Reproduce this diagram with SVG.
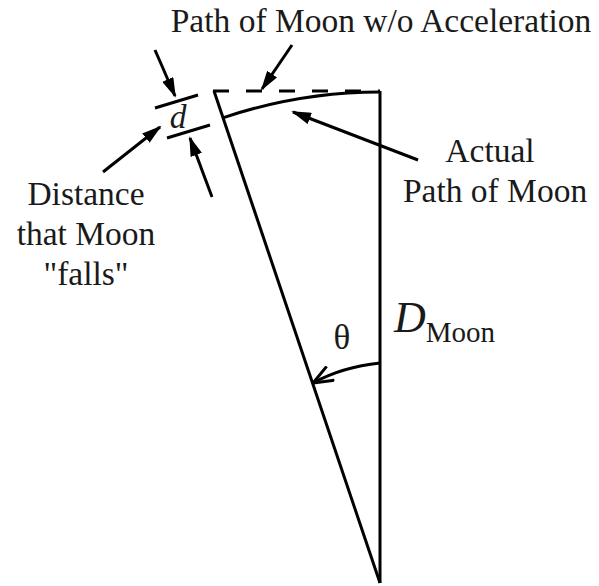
<svg xmlns="http://www.w3.org/2000/svg" width="599" height="586" viewBox="0 0 599 586">
<style>
  .ln{stroke:#000;stroke-width:3;fill:none}
  .ar{stroke:#000;stroke-width:3;fill:none;marker-end:url(#ah)}
  .tx{font-family:"Liberation Serif","Times New Roman",serif;fill:#1a1a1a;font-size:33.5px}
</style>
<defs>
  <marker id="ah" viewBox="0 0 20 12" refX="18" refY="6" markerWidth="20" markerHeight="12" markerUnits="userSpaceOnUse" orient="auto">
    <path d="M0,0 L20,6 L0,12 z" fill="#000"/>
  </marker>
  <marker id="oh" viewBox="0 0 22 18" refX="21" refY="9" markerWidth="22" markerHeight="18" markerUnits="userSpaceOnUse" orient="auto">
    <path d="M1,1 L21,9 L1,17" fill="none" stroke="#000" stroke-width="3"/>
  </marker>
</defs>
<rect width="599" height="586" fill="#fff"/>
<g id="geometry">
  <line class="ln" x1="380" y1="91" x2="380" y2="583"/>
  <line class="ln" x1="214" y1="91" x2="380" y2="583"/>
  <line class="ln" x1="213" y1="91" x2="380" y2="91" stroke-dasharray="16 17"/>
  <path class="ln" d="M223.6,117.6 A491,491 0 0 1 380,92"/>
  <line class="ln" x1="155" y1="108" x2="198" y2="95"/>
  <line class="ln" x1="167" y1="138" x2="210" y2="125"/>
</g>
<g id="connectors">
  <line class="ar" x1="155" y1="50" x2="175" y2="96"/>
  <line class="ar" x1="292" y1="45" x2="262" y2="89"/>
  <line class="ar" x1="418" y1="160" x2="293" y2="112"/>
  <line class="ar" x1="103" y1="172" x2="160" y2="127"/>
  <line class="ar" x1="212" y1="197" x2="190" y2="138"/>
  <path d="M380,363 Q342,367 313,383" fill="none" stroke="#000" stroke-width="3" marker-end="url(#oh)"/>
</g>
<g id="labels">
  <text class="tx" x="381" y="32" text-anchor="middle">Path of Moon w/o Acceleration</text>
  <text class="tx" x="490" y="162" text-anchor="middle">Actual</text>
  <text class="tx" x="495" y="202" text-anchor="middle">Path of Moon</text>
  <text class="tx" x="86" y="205" text-anchor="middle">Distance</text>
  <text class="tx" x="86" y="245" text-anchor="middle">that Moon</text>
  <text class="tx" x="86" y="285" text-anchor="middle">"falls"</text>
  <text class="tx" x="178" y="128" text-anchor="middle" style="font-style:italic">d</text>
  <text class="tx" x="342" y="349" text-anchor="middle" style="font-size:35px">θ</text>
  <text class="tx" x="394" y="332" style="font-style:italic;font-size:44px">D<tspan style="font-style:normal;font-size:29px" dy="10">Moon</tspan></text>
</g>
</svg>
